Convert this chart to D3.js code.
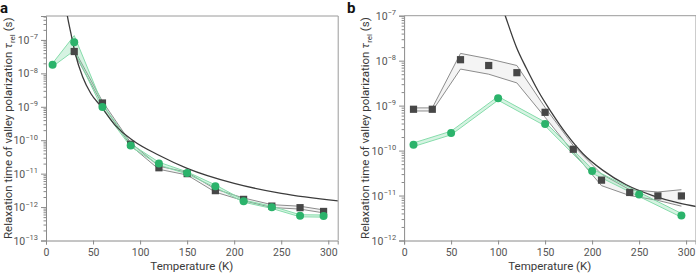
<!DOCTYPE html>
<html>
<head>
<meta charset="utf-8">
<script src="https://cdn.jsdelivr.net/npm/d3@7"></script>
<style>
  body { margin: 0; background: #fff; }
  svg { display: block; font-family: Roboto, "Noto Sans", sans-serif; }
</style>
</head>
<body>
<svg width="696" height="275"></svg>
<script>
var svg = d3.select("svg");

// ---- panel a data ----
var aGreenT  = [7, 30, 60, 90, 120, 150, 180, 210, 240, 270, 295];
var aGreen   = [1.8e-8, 8.5e-8, 9.8e-10, 7e-11, 2e-11, 1.05e-11, 4.2e-12, 1.5e-12, 9.8e-13, 5.5e-13, 5.4e-13];
var aGreenHi = [2.0e-8, 1.35e-7, 1.2e-9, 7.8e-11, 2.2e-11, 1.13e-11, 4.6e-12, 1.62e-12, 1.06e-12, 5.9e-13, 5.8e-13];
var aGreenLo = [1.6e-8, 4.8e-8, 8.6e-10, 6.4e-11, 1.82e-11, 9.7e-12, 3.9e-12, 1.4e-12, 9.1e-13, 5.1e-13, 5.0e-13];

var aGrayT  = [30, 60, 90, 120, 150, 180, 210, 240, 270, 295];
var aGray   = [4.5e-8, 1.3e-9, 7.6e-11, 1.5e-11, 1e-11, 3.1e-12, 1.7e-12, 1.07e-12, 9.6e-13, 7.4e-13];
var aGrayHi = [5.1e-8, 1.45e-9, 8.4e-11, 1.67e-11, 1.1e-11, 3.45e-12, 1.87e-12, 1.18e-12, 1.06e-12, 8.2e-13];
var aGrayLo = [4.0e-8, 1.17e-9, 6.9e-11, 1.35e-11, 9.1e-12, 2.8e-12, 1.55e-12, 0.97e-12, 8.7e-13, 6.7e-13];

// model curve a (T, log10 tau)
var aModelT   = [20.5, 22.3, 26.6, 31.2, 39, 47.8, 58.5, 74.4, 92, 120, 150, 200, 250, 312];
var aModelLog = [-5.9, -6.22, -6.82, -7.42, -8.11, -8.61, -8.99, -9.58, -10.0, -10.45, -10.84, -11.29, -11.59, -11.82];

// ---- panel b data ----
var bGrayT  = [10, 30, 60, 90, 120, 150, 180, 210, 240, 270, 295];
var bGray   = [8.3e-10, 8.3e-10, 1.05e-8, 7.8e-9, 5.4e-9, 7.1e-10, 1.07e-10, 2.2e-11, 1.17e-11, 9.8e-12, 9.8e-12];
var bGrayHi = [8.9e-10, 8.9e-10, 1.45e-8, 1.1e-8, 7.8e-9, 9.1e-10, 1.29e-10, 3.0e-11, 1.35e-11, 1.2e-11, 1.35e-11];
var bGrayLo = [7.6e-10, 7.6e-10, 6.5e-9, 5.0e-9, 3.2e-9, 5.5e-10, 9.1e-11, 1.66e-11, 1.0e-11, 7.8e-12, 5.8e-12];

var bGreenT  = [10, 50, 100, 150, 200, 250, 295];
var bGreen   = [1.35e-10, 2.46e-10, 1.45e-9, 3.9e-10, 3.5e-11, 1.05e-11, 3.6e-12];
var bGreenHi = [1.48e-10, 2.7e-10, 1.6e-9, 4.3e-10, 3.9e-11, 1.18e-11, 4.0e-12];
var bGreenLo = [1.23e-10, 2.24e-10, 1.32e-9, 3.55e-10, 3.15e-11, 9.5e-12, 3.3e-12];

var bModelT   = [104, 107.6, 119.5, 130.1, 142.5, 156.7, 172.6, 190.3, 211.5, 236.3, 264.5, 292.9, 312];
var bModelLog = [-6.78, -7.0, -7.70, -8.17, -8.67, -9.15, -9.63, -10.07, -10.44, -10.76, -11.0, -11.17, -11.25];

var xTicks = [0, 50, 100, 150, 200, 250, 300];
var aExp = [-13, -12, -11, -10, -9, -8, -7];
var bExp = [-12, -11, -10, -9, -8, -7];

var green = "#2bb36b", greenLine = "#86dcab", greenFill = "rgba(120,215,160,0.3)";
var grayMark = "#474747", grayLine = "#8c8c8c", grayFill = "rgba(200,200,200,0.2)";

function drawPanel(o) {
  var x = d3.scaleLinear().domain([0, 310]).range([o.x0, o.x1]);
  var y = d3.scaleLog().domain(o.yDomain).range([o.y1, o.y0]);
  var g = svg.append("g");

  g.append("clipPath").attr("id", "clip" + o.id)
    .append("rect").attr("x", o.x0).attr("y", o.y0)
    .attr("width", o.x1 - o.x0).attr("height", o.y1 - o.y0);

  // frame (top/right lighter)
  g.append("line").attr("x1", o.x0).attr("x2", o.x1 + 0.5).attr("y1", o.y0).attr("y2", o.y0)
    .attr("stroke", "#9a9a9a").attr("stroke-width", 1);
  g.append("line").attr("x1", o.x1 + 0.5).attr("x2", o.x1 + 0.5).attr("y1", o.y0).attr("y2", o.y1)
    .attr("stroke", "#9a9a9a").attr("stroke-width", 1);

  // axes
  var xAxis = g.append("g").attr("transform", "translate(0," + o.y1 + ")")
    .call(d3.axisBottom(x).tickValues(xTicks).tickSize(4).tickPadding(4).tickFormat(d3.format("d")));
  var minor = [];
  o.exps.forEach(function(e) {
    for (var k = 2; k <= 9; k++) {
      var v = k * Math.pow(10, e);
      if (v < o.yDomain[1]) minor.push(v);
    }
  });
  var yMinor = g.append("g").attr("transform", "translate(" + o.x0 + ",0)")
    .call(d3.axisLeft(y).tickValues(minor).tickSize(2.5).tickFormat(""));
  var yAxis = g.append("g").attr("transform", "translate(" + o.x0 + ",0)")
    .call(d3.axisLeft(y).tickValues(o.exps.map(function(e) { return Math.pow(10, e); }))
      .tickSize(5).tickPadding(3).tickFormat(""));
  [xAxis, yAxis, yMinor].forEach(function(ax) {
    ax.select(".domain").attr("stroke", "#8a8a8a");
    ax.selectAll(".tick line").attr("stroke", "#8a8a8a");
    ax.selectAll("text").attr("fill", "#555").attr("font-size", 10.5)
      .attr("font-family", "Roboto, 'Noto Sans', sans-serif");
  });
  yMinor.select(".domain").remove();

  // y tick labels with superscripts
  var lab = g.append("g").selectAll("text").data(o.exps).enter().append("text")
    .attr("x", o.x0 - 8).attr("y", function(e) { return y(Math.pow(10, e)) + 4; })
    .attr("text-anchor", "end").attr("fill", "#555").attr("font-size", 10.5);
  lab.append("tspan").text("10");
  lab.append("tspan").attr("dy", -4.5).attr("font-size", 7.5).text(function(e) { return "\u2212" + (-e); });

  // axis titles
  g.append("text").attr("x", (o.x0 + o.x1) / 2).attr("y", 270).attr("text-anchor", "middle")
    .attr("fill", "#3a3a3a").attr("font-size", 11.5).text("Temperature (K)");
  var yt = g.append("text")
    .attr("transform", "translate(" + o.ylx + "," + ((o.y0 + o.y1) / 2) + ") rotate(-90)")
    .attr("text-anchor", "middle").attr("fill", "#3a3a3a").attr("font-size", 11.5);
  yt.append("tspan").text("Relaxation time of valley polarization ");
  yt.append("tspan").attr("font-style", "italic").text("\u03c4");
  yt.append("tspan").attr("dy", 2.5).attr("font-size", 8).text("rel");
  yt.append("tspan").attr("dy", -2.5).text(" (s)");

  // panel letter
  g.append("text").attr("x", o.letterX).attr("y", 13).attr("font-weight", "bold")
    .attr("font-size", 15).attr("fill", "#111").text(o.id);

  var plot = g.append("g").attr("clip-path", "url(#clip" + o.id + ")");

  function band(T, hi, lo, fill, stroke) {
    var d = T.map(function(t, i) { return { t: t, hi: hi[i], lo: lo[i] }; });
    plot.append("path").datum(d)
      .attr("d", d3.area().x(function(p) { return x(p.t); })
        .y0(function(p) { return y(p.lo); }).y1(function(p) { return y(p.hi); }))
      .attr("fill", fill).attr("stroke", "none");
    [hi, lo].forEach(function(arr) {
      plot.append("path").datum(d3.zip(T, arr))
        .attr("d", d3.line().x(function(p) { return x(p[0]); }).y(function(p) { return y(p[1]); }))
        .attr("fill", "none").attr("stroke", stroke).attr("stroke-width", 1);
    });
  }

  o.bands.forEach(function(b) { band(b[0], b[1], b[2], b[3], b[4]); });

  plot.append("path").datum(d3.zip(o.modelT, o.modelLog))
    .attr("d", d3.line().curve(d3.curveMonotoneX)
      .x(function(p) { return x(p[0]); })
      .y(function(p) { return y(Math.pow(10, p[1])); }))
    .attr("fill", "none").attr("stroke", "#3c3c3c").attr("stroke-width", 1.3);

  g.append("g").selectAll("rect").data(d3.zip(o.sqT, o.sq)).enter().append("rect")
    .attr("x", function(p) { return x(p[0]) - 3.6; })
    .attr("y", function(p) { return y(p[1]) - 3.6; })
    .attr("width", 7.2).attr("height", 7.2).attr("fill", grayMark);

  g.append("g").selectAll("circle").data(d3.zip(o.ciT, o.ci)).enter().append("circle")
    .attr("cx", function(p) { return x(p[0]); })
    .attr("cy", function(p) { return y(p[1]); })
    .attr("r", 4).attr("fill", green);
}

drawPanel({
  id: "a", x0: 46, x1: 337.7, y0: 16, y1: 240.5, yDomain: [1e-13, 5.2e-7], exps: aExp,
  ylx: 12, letterX: 0,
  bands: [[aGrayT, aGrayHi, aGrayLo, grayFill, grayLine],
          [aGreenT, aGreenHi, aGreenLo, greenFill, greenLine]],
  modelT: aModelT, modelLog: aModelLog,
  sqT: aGrayT, sq: aGray, ciT: aGreenT, ci: aGreen
});

drawPanel({
  id: "b", x0: 404.1, x1: 695.5, y0: 15.7, y1: 240.5, yDomain: [1e-12, 1e-7], exps: bExp,
  ylx: 369, letterX: 347,
  bands: [[bGrayT, bGrayHi, bGrayLo, grayFill, grayLine],
          [bGreenT, bGreenHi, bGreenLo, greenFill, greenLine]],
  modelT: bModelT, modelLog: bModelLog,
  sqT: bGrayT, sq: bGray, ciT: bGreenT, ci: bGreen
});
</script>
</body>
</html>
